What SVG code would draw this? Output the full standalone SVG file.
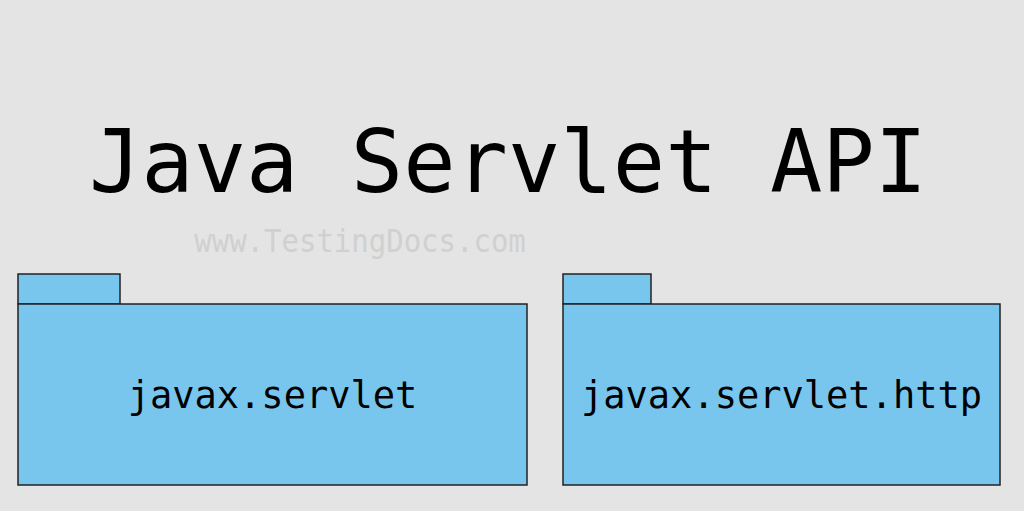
<svg xmlns="http://www.w3.org/2000/svg" width="1024" height="511" viewBox="0 0 1024 511">
<style>
.pkg{fill:#78c6ee;stroke:#222;stroke-width:1.5}
.mono{font-family:"DejaVu Sans Mono","Liberation Mono",monospace}
.lbl{font-size:37px;fill:#000;text-anchor:middle}
</style>
<rect width="1024" height="511" fill="#e4e4e4"/>
<text class="mono" x="508" y="192" font-size="87" text-anchor="middle" fill="#000">Java Servlet API</text>
<text class="mono" transform="translate(360 252) scale(1 1.07)" x="0" y="0" font-size="29" text-anchor="middle" fill="#d0d0d0">www.TestingDocs.com</text>
<g id="pkg-servlet">
<rect class="pkg" x="18" y="274" width="102" height="30"/>
<rect class="pkg" x="18" y="304" width="509" height="181"/>
<text class="mono lbl" x="272.5" y="408">javax.servlet</text>
</g>
<g id="pkg-http">
<rect class="pkg" x="563" y="274" width="88" height="30"/>
<rect class="pkg" x="563" y="304" width="437" height="181"/>
<text class="mono lbl" x="781.5" y="408">javax.servlet.http</text>
</g>
<g id="connectors"></g>
</svg>
